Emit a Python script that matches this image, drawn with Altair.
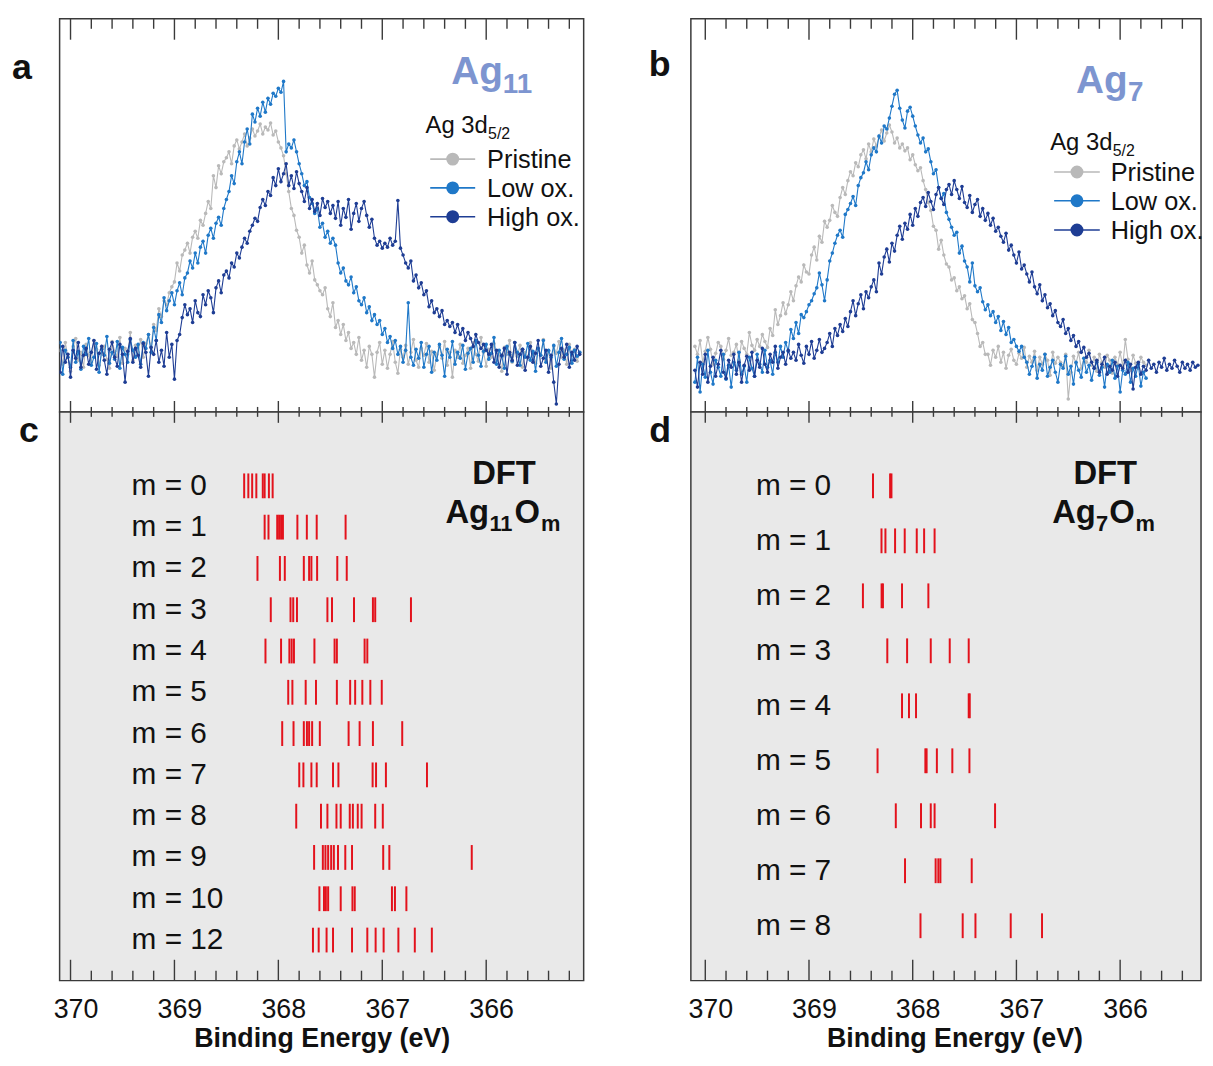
import altair as alt
import pandas as pd

# ---------------- data ----------------
E_START = 370.10   # eV, first channel of every scan
E_STEP = 0.025     # eV per channel

# intensities (arbitrary units, panel a)
A_PRISTINE = [62, 48, 70, 55, 41, 66, 74, 52, 60, 45, 68, 57, 50, 72, 63, 47, 59, 66, 53, 44,
              71, 61, 56, 75, 49, 64, 58, 80, 52, 67, 60, 73, 55, 69, 78, 65,
              88, 82, 104, 96, 112, 108, 120, 126, 131, 150, 142, 158, 163,
              170, 160, 176, 182, 175, 193, 188, 200, 212, 205, 238, 226, 248, 240, 252, 256,
              262, 250, 268, 274, 265, 272, 280, 268, 276, 285, 278, 283, 290, 280, 287, 284, 291, 279, 283, 272,
              266, 258, 240, 222, 205, 198, 183, 176, 160, 168, 148, 140, 152, 133, 128, 122,
              118, 125, 104, 96, 110, 85, 92, 78, 88, 72, 80, 64, 70, 58, 75, 52, 62, 45, 66, 58, 35, 60, 70, 48,
              62, 44, 58, 71, 50, 39, 63, 55, 67, 48, 60, 73, 52, 45, 64, 57, 69, 50, 61, 42,
              58, 66, 54, 71, 47, 60, 35, 62, 55, 68, 49, 57, 64, 44, 70, 58, 51, 75, 60, 46,
              63, 55, 69, 52, 59, 41, 65, 58, 72, 50, 61, 56, 67, 45, 60, 54, 70, 58, 49, 64,
              57, 73, 52, 61, 44, 66, 59, 71, 55, 62, 48, 68, 57, 63, 51, 60]
A_LOW = [70, 38, 62, 55, 45, 72, 50, 61, 43, 66, 58, 74, 47, 55, 69, 40, 63, 57, 76, 49,
         60, 53, 71, 44, 65, 58, 50, 73, 62, 55, 68, 48, 70, 64, 78, 60, 85, 72,
         98, 90, 115, 102, 112, 120, 108, 122, 130, 118, 135, 140, 152, 145, 160, 150, 166, 172, 160, 178,
         185, 175, 190, 196, 188, 205, 214, 222, 238, 230, 252, 262, 250, 272, 285, 270, 300, 292, 306, 298,
         312, 302, 316, 310, 321, 318, 326, 322, 333, 262, 270, 266, 274, 262, 250, 240, 228, 232, 216, 210,
         200, 205, 186, 190, 176, 182, 170, 175, 168,
         150, 140, 145, 132, 128, 136, 120, 126, 112, 108, 115, 100, 106, 92, 98, 88, 92, 78, 84, 70, 76, 64, 72,
         58, 66, 50, 62, 110, 55, 47, 63, 54, 70, 45, 58, 66, 40, 60, 52, 68, 57, 36, 63,
         55, 71, 48, 60, 54, 67, 43, 59, 64, 50, 72, 57, 46, 61, 68, 53, 59, 75, 48, 62,
         56, 44, 66, 58, 51, 70, 60, 47, 63, 55, 69, 52, 61, 41, 64, 57, 72, 50, 62, 55,
         67, 46, 60, 74, 53, 58, 65, 49, 62, 56, 60]
A_HIGH = [40, 66, 50, 58, 35, 62, 54, 70, 45, 57, 64, 48, 60, 72, 43, 59, 66, 52, 38, 63,
          70, 55, 46, 68, 58, 30, 61, 74, 50, 64, 57, 45, 69, 60, 36, 65, 58, 72, 50, 62,
          46, 80, 55, 68, 33, 72,
          78, 95, 108, 98, 104, 90, 112, 100, 96, 118, 108, 122, 115, 100, 125, 132, 120, 138, 142, 135,
          150, 146, 160, 155, 166, 175, 170, 182, 188, 195, 192, 206, 214, 208, 222, 218, 236, 228, 245, 232,
          240, 250, 228, 238, 225, 242, 230, 222, 212, 226, 205, 214, 202, 210, 198, 215, 206, 212, 200, 208,
          195, 212, 188, 205, 196, 214, 184, 200, 210, 192, 205, 212, 198, 186, 194, 175, 168, 172, 165, 170,
          166, 175, 168, 172, 213, 165, 158, 150, 145, 152, 132, 138, 125, 130, 118, 122, 106, 112, 100, 104,
          96, 102, 88, 92, 86, 90, 80, 88, 78, 84, 72, 80, 74, 66, 78, 70, 64, 68, 62,
          58, 68, 50, 62, 45, 57, 64, 38, 60, 52, 70, 47, 58, 63, 42, 55, 66, 50, 59, 72,
          46, 54, 62, 40, 57, 30, 8, 48, 64, 55, 68, 45, 60, 52, 66, 58]

# panel b
B_PRISTINE = [66, 58, 72, 50, 61, 75, 63, 48, 59, 70, 66, 53, 62, 74, 57, 60, 68, 52, 71, 64,
              58, 80, 67, 62, 73, 66, 78, 71, 65, 84, 77,
              103, 88, 97, 110, 99, 108, 121, 112, 127, 136, 131, 148, 141, 139, 158, 166, 153, 177, 171, 192,
              186, 193, 208, 201, 197, 216, 226, 219, 233, 242, 238, 251, 247, 259, 264, 255, 270, 262, 275, 268,
              277, 284, 273, 281, 289, 282, 271, 276, 266, 270, 263, 266, 254, 259, 249, 243, 246, 233, 224, 211,
              203, 187, 183, 164, 173, 158, 149, 146, 133, 135, 122, 126, 114, 117, 104, 109, 93, 90, 79, 66,
              70, 58,
              58, 47, 62, 55, 66, 50, 60, 44, 57, 63, 52, 48, 59, 54, 65, 45, 56, 50, 61, 42,
              55, 48, 58, 52, 37, 60, 49, 55, 50, 46, 58, 13, 40, 56, 49, 60, 44, 54, 50, 62,
              47, 55, 41, 58, 50, 45, 57, 52, 39, 55, 48, 60, 46, 73, 53, 42, 57, 49, 44, 55, 50, 47]
B_LOW = [30, 55, 20, 48, 35, 62, 40, 28, 52, 45, 36, 58, 33, 47, 25, 50, 42, 60, 38, 46,
         30, 55, 44, 36, 58, 48, 40, 62, 45, 52, 38, 60, 50, 66, 55,
         70, 61, 83, 74, 90, 79, 98, 95, 101, 108, 112, 119, 125, 140, 128, 112, 133, 152, 160, 170,
         178, 183, 176, 199, 204, 210, 217, 208, 228, 236, 241, 252, 244, 259, 266, 262, 278, 271, 288, 285,
         296, 308, 320, 324, 306, 294, 286, 303, 307, 298, 288, 279, 271, 276, 262, 265, 252, 240, 244, 226,
         215, 220, 201, 194, 186, 178, 181, 160, 167, 152, 146, 131, 150, 127, 121, 125, 111, 103, 108, 97,
         101, 90, 96, 82, 91, 78, 85, 70, 73, 66, 61, 66, 55,
         50, 38, 46, 55, 34, 48, 42, 58, 36, 45, 52, 40, 30, 48, 44, 56, 38, 46, 28, 50,
         42, 35, 54, 40, 47, 32, 44, 50, 37, 45, 25, 48, 40, 52, 34, 46, 20, 42, 38, 50,
         30, 44, 36, 48, 26, 40, 34]
B_HIGH = [42, 25, 50, 38, 58, 30, 46, 55, 36, 48, 62, 40, 34, 52, 45, 58, 38, 50, 30, 47,
          56, 42, 60, 36, 52, 45, 64, 48, 40, 58, 50, 66, 44, 55, 60, 48, 62, 54,
          60, 52, 68, 57, 49, 66, 58, 71, 54, 62, 73, 60, 64, 70, 79, 66, 84, 77, 88, 81,
          94, 86, 101, 112, 97, 109, 118, 104, 121, 115, 126, 133, 121, 150, 139, 156, 164, 151, 170, 162,
          178, 187, 174, 190, 184, 199, 188, 205, 197, 211, 216, 207, 221, 212, 204, 219, 226, 215, 209, 224,
          229, 219, 233, 224, 215, 227, 211, 206, 218, 201, 209, 214, 197, 205, 193, 200, 188, 195, 182, 186,
          177, 171, 180, 163, 168, 158, 150, 161, 144, 148, 139, 131, 141, 126, 119, 128, 112, 118, 105, 109,
          97, 102, 90, 86, 93, 79, 84, 72, 77, 66, 71, 60, 65, 55, 59,
          50, 44, 52, 40, 48, 55, 38, 46, 42, 50, 36, 47, 44, 52, 40, 48, 23, 45, 50, 38,
          46, 42, 52, 44, 48, 40, 50, 45, 54, 42, 48, 44, 52, 46, 40, 50, 44, 48, 42, 50, 45, 47]

SERIES = ["Pristine", "Low ox.", "High ox."]
SERIES_COLORS = ["#b9b9b9", "#1f78c8", "#1e3d94"]

# DFT core-level shifts (eV)
C_LABELS = ["m = 0", "m = 1", "m = 2", "m = 3", "m = 4", "m = 5",
            "m = 6", "m = 7", "m = 8", "m = 9", "m = 10", "m = 12"]
C_LINES = [
    [368.329, 368.289, 368.252, 368.212, 368.150, 368.132, 368.091, 368.055],
    [368.132, 368.095, 368.011, 367.993, 367.974, 367.956, 367.817, 367.726, 367.631, 367.353],
    [368.201, 367.985, 367.938, 367.755, 367.704, 367.682, 367.627, 367.433, 367.342],
    [368.073, 367.883, 367.857, 367.821, 367.528, 367.484, 367.272, 367.090, 367.068, 366.724],
    [368.124, 367.974, 367.894, 367.872, 367.850, 367.653, 367.459, 367.437, 367.170, 367.144],
    [367.905, 367.865, 367.737, 367.638, 367.437, 367.309, 367.261, 367.192, 367.115, 367.005],
    [367.963, 367.854, 367.755, 367.725, 367.704, 367.675, 367.601, 367.324, 367.218, 367.090, 366.808],
    [367.799, 367.759, 367.682, 367.631, 367.474, 367.422, 367.093, 367.060, 366.965, 366.570],
    [367.828, 367.590, 367.528, 367.441, 367.400, 367.313, 367.283, 367.236, 367.199, 367.068, 366.995],
    [367.656, 367.572, 367.547, 367.521, 367.492, 367.466, 367.426, 367.356, 367.291, 366.991, 366.932, 366.139],
    [367.605, 367.561, 367.543, 367.521, 367.400, 367.287, 367.265, 366.907, 366.878, 366.768],
    [367.667, 367.612, 367.536, 367.474, 367.291, 367.144, 367.064, 366.987, 366.845, 366.687, 366.523],
]
D_LABELS = ["m = 0", "m = 1", "m = 2", "m = 3", "m = 4", "m = 5", "m = 6", "m = 7", "m = 8"]
D_LINES = [
    [368.383, 368.218, 368.205],
    [368.301, 368.263, 368.170, 368.077, 367.961, 367.890, 367.789],
    [368.480, 368.300, 368.287, 368.103, 367.849],
    [368.245, 368.054, 367.826, 367.643, 367.460],
    [368.103, 368.036, 367.968, 367.460, 367.450],
    [368.339, 367.878, 367.866, 367.767, 367.618, 367.453],
    [368.163, 367.920, 367.826, 367.789, 367.206],
    [368.074, 367.779, 367.753, 367.733, 367.431],
    [367.925, 367.518, 367.395, 367.055, 366.753],
]

MAJOR_TICKS = [370, 369, 368, 367, 366]
MINOR_TICKS_A = [369.8, 369.6, 369.4, 369.2, 368.8, 368.6, 368.4, 368.2, 367.8, 367.6,
                 367.4, 367.2, 366.8, 366.6, 366.4, 366.2, 365.8, 365.6, 365.4, 365.2]
MINOR_TICKS_B = [369.8, 369.6, 369.4, 369.2, 368.8, 368.6, 368.4, 368.2, 367.8, 367.6,
                 367.4, 367.2, 366.8, 366.6, 366.4, 366.2, 365.8, 365.6, 365.4]
AXIS_TITLE = "Binding Energy (eV)"

# ---------------- style / layout ----------------
FONT = "Liberation Sans"
INK = "#111111"
FRAME = "#3a3a3a"
RED = "#e3121c"
PANEL_GREY = "#e9e9e9"
TITLE_BLUE = "#7d95d0"
TOP_H = 396
BOT_H = 573
W_A, W_B = 528, 514
DOM_A = [370.105, 365.062]
DOM_B = [370.139, 365.220]
LEG_FONT = 25.5

ONE = pd.DataFrame({"k": [0]})


def energies(n):
    return [round(E_START - E_STEP * i, 3) for i in range(n)]


def xenc(dom, axis=None):
    return alt.X("E:Q", scale=alt.Scale(domain=dom, nice=False, zero=False), axis=axis)


def text_layer(s, x, y, size, weight="normal", color=INK, baseline="alphabetic", align="left"):
    return alt.Chart(ONE).mark_text(
        text=s, font=FONT, fontSize=size, fontWeight=weight, color=color,
        align=align, baseline=baseline
    ).encode(x=alt.value(x), y=alt.value(y))


def tick_layers(dom, spans, axis=None):
    out = []
    for vals, y1, y2 in spans:
        out.append(
            alt.Chart(pd.DataFrame({"E": vals})).mark_rule(color=FRAME, strokeWidth=1.4)
            .encode(x=xenc(dom, axis), y=alt.value(y1), y2=alt.value(y2))
        )
    return out


def top_panel(values, dom, width, minor, letter, letter_xy, ag_xy, sub, sub_xy, leg):
    ys = alt.Scale(domain=[0, TOP_H], nice=False, zero=False)
    layers = []
    for name, color, vals in zip(SERIES, SERIES_COLORS, values):
        df = pd.DataFrame({"E": energies(len(vals)), "I": vals})
        base = alt.Chart(df).encode(x=xenc(dom), y=alt.Y("I:Q", scale=ys, axis=None))
        layers.append(base.mark_line(color=color, strokeWidth=1.1, clip=True))
        layers.append(base.mark_point(color=color, filled=True, size=13, opacity=1, clip=True))
    layers += tick_layers(dom, [(MAJOR_TICKS, 0, 21), (minor, 0, 10)])
    layers.append(text_layer(letter, letter_xy[0], letter_xy[1], 36, "bold"))
    layers.append(text_layer("Ag", ag_xy[0], ag_xy[1], 39, "bold", TITLE_BLUE))
    layers.append(text_layer(sub, sub_xy[0], sub_xy[1], 28, "bold", TITLE_BLUE))
    layers.append(text_layer("Ag 3d", leg["hx"], leg["hy"], 24))
    layers.append(text_layer("5/2", leg["hx"] + 63, leg["hy"] + 6, 16))
    for name, color, yy in zip(SERIES, SERIES_COLORS, leg["ys"]):
        layers.append(alt.Chart(ONE).mark_rule(color=color, strokeWidth=1.6)
                      .encode(x=alt.value(leg["x1"]), x2=alt.value(leg["x2"]), y=alt.value(yy)))
        layers.append(alt.Chart(ONE).mark_point(color=color, filled=True, size=170, opacity=1)
                      .encode(x=alt.value((leg["x1"] + leg["x2"]) / 2), y=alt.value(yy)))
        layers.append(text_layer(name, leg["tx"], yy + 1.4, LEG_FONT, baseline="middle"))
    return alt.layer(*layers).properties(width=width, height=TOP_H)


def bottom_panel(labels, lines, dom, width, minor, pitch, label_x, letter, letter_xy,
                 dft_x, ag_x, sub, title_x):
    lo = -74.5 / pitch
    hi = lo + BOT_H / pitch
    ys = alt.Scale(domain=[hi, lo], nice=False, zero=False)
    sticks = pd.DataFrame([{"E": e, "row": r} for r, lst in enumerate(lines) for e in lst])
    labs = pd.DataFrame({"row": list(range(len(labels))), "label": labels})
    axis = alt.Axis(values=MAJOR_TICKS, format="d", ticks=False, tickSize=0, domain=False, grid=False,
                    labelFont=FONT, labelFontSize=27, labelColor=INK, labelPadding=16, labelOffset=5,
                    labelFlush=False, labelOverlap=False,
                    title=AXIS_TITLE, titleFont=FONT, titleFontSize=27, titleFontWeight="bold",
                    titleColor=INK, titleBaseline="top", titleY=45, titleX=title_x, titleAlign="center")
    layers = [
        alt.Chart(sticks).mark_tick(orient="vertical", color=RED, thickness=2, size=25, opacity=1)
        .encode(x=xenc(dom, axis), y=alt.Y("row:Q", scale=ys, axis=None)),
        alt.Chart(labs).mark_text(font=FONT, fontSize=30, align="left", baseline="middle", color=INK)
        .encode(x=alt.value(label_x), y=alt.Y("row:Q", scale=ys, axis=None), text="label:N"),
    ]
    layers += tick_layers(dom, [(MAJOR_TICKS, -11, 11), (minor, -5, 5),
                                (MAJOR_TICKS, BOT_H - 21, BOT_H), (minor, BOT_H - 10, BOT_H)], axis)
    layers.append(text_layer(letter, letter_xy[0], letter_xy[1], 36, "bold"))
    layers.append(text_layer("DFT", dft_x, 73, 33, "bold", align="center"))
    layers.append(text_layer("Ag", ag_x, 111.7, 33, "bold"))
    layers.append(text_layer(sub, ag_x + 44.3, 120, 22, "bold"))
    layers.append(text_layer("O", ag_x + 44.3 + 12.2 * len(sub) + 1, 111.7, 33, "bold"))
    layers.append(text_layer("m", ag_x + 44.3 + 12.2 * len(sub) + 27.5, 120, 22, "bold"))
    return alt.layer(*layers).properties(width=width, height=BOT_H,
                                         view=alt.ViewBackground(fill=PANEL_GREY))


top_a = top_panel([A_PRISTINE, A_LOW, A_HIGH], DOM_A, W_A, MINOR_TICKS_A, "a", (-48, 61),
                  (394.7, 66), "11", (446.5, 74.3),
                  {"hx": 368.7, "hy": 115.3, "x1": 373.4, "x2": 418.7, "tx": 430.7,
                   "ys": [141.3, 170.3, 199.3]})
top_b = top_panel([B_PRISTINE, B_LOW, B_HIGH], DOM_B, W_B, MINOR_TICKS_B, "b", (-42.5, 57.7),
                  (388, 74.3), "7", (440.5, 82.7),
                  {"hx": 362, "hy": 131.7, "x1": 366, "x2": 412, "tx": 423,
                   "ys": [154.3, 183.3, 212.7]})
bot_c = bottom_panel(C_LABELS, C_LINES, DOM_A, W_A, MINOR_TICKS_A, 41.6, 72.5, "c", (-41, 30.7),
                     447.7, 388.7, "11", W_A / 2)
bot_d = bottom_panel(D_LABELS, D_LINES, DOM_B, W_B, MINOR_TICKS_B, 55.4, 65.5, "d", (-42, 30.7),
                     417.5, 364, "7", 265.6)

chart = alt.concat(
    top_a, top_b, bot_c, bot_d, columns=2,
    spacing={"row": 0, "column": 108}, bounds="flush"
).properties(
    padding={"left": 3, "top": 5, "right": 0, "bottom": 0}
).configure(
    font=FONT
).configure_view(
    stroke=FRAME, strokeWidth=1.5
)

chart.save("out.html", embed_options={"renderer": "svg", "actions": False})
